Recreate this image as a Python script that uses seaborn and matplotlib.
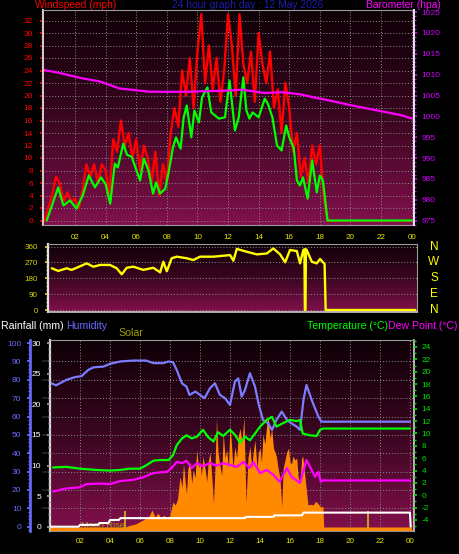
import numpy as np
import matplotlib
matplotlib.use('Agg')
import matplotlib.pyplot as plt
from matplotlib.colors import LinearSegmentedColormap
from matplotlib.ticker import MultipleLocator
import seaborn as sns

# ---- values (hours after midnight) ----
wind_hours = [0.15, 0.9, 1.24, 1.67, 2.1, 2.5, 2.9, 3.3, 3.7, 4.0,
              4.3, 4.6, 4.8, 5.15, 5.4, 5.7, 6.25, 6.5, 6.8, 7.1,
              7.3, 7.55, 7.9, 8.1, 8.4, 8.6, 8.9, 9.1, 9.3, 9.6,
              9.8, 10.1, 10.3, 10.65, 10.9, 11.4, 11.8, 12.1, 12.45, 12.7,
              13.0, 13.2, 13.4, 13.6, 14.0, 14.4, 14.6, 14.9, 15.2, 15.5,
              15.8, 16.0, 16.3, 16.5, 16.7, 16.9, 17.2, 17.5, 17.8, 18.0,
              18.2, 18.5, 24.0]
wind_avg = [0.0, 5.3, 2.4, 3.2, 1.9, 4.0, 7.2, 5.3, 6.9, 5.8,
            2.7, 9.1, 8.5, 12.3, 10.5, 10.2, 6.4, 9.9, 8.0, 4.3,
            6.1, 4.3, 5.1, 7.5, 11.7, 13.3, 11.5, 16.5, 18.4, 13.3,
            17.6, 15.7, 19.7, 21.3, 17.3, 16.3, 16.5, 22.4, 14.4, 16.5,
            22.9, 17.6, 16.3, 17.3, 16.5, 19.5, 18.7, 16.5, 12.0, 11.2,
            15.2, 13.3, 11.5, 6.4, 5.6, 6.9, 3.5, 9.6, 4.5, 7.2,
            6.4, 0.0, 0.0]

# gusts logged every quarter hour until the station went quiet
gust_every = 0.25
wind_gust = [0, 2, 4, 7, 6, 3, 4.5, 3, 3.5, 2, 5, 9, 7, 9, 6, 9, 8, 4, 13, 11,
             16, 12, 14, 10, 13, 8, 12, 10, 6, 11, 4, 9, 6, 14, 18, 15, 24, 20, 26, 18,
             27, 33, 22, 28, 21, 26, 19, 24, 33, 28, 20, 33, 25, 22, 27, 19, 30, 25, 22, 27,
             18, 21, 14, 22, 18, 11, 14, 7, 10, 6, 12, 9, 12, 4, 0]

pres_hours = [0, 1.0, 2.5, 3.6, 4.9, 6.9, 9.1, 12.1, 12.9, 14.4, 15.5, 16.7,
              17.8, 18.9, 20.0, 21.1, 22.2, 23.3, 24.0]
pressure = [1011.1, 1010.4, 1009.1, 1008.4, 1006.7, 1005.9, 1005.9, 1006.2, 1006.4, 1005.6,
            1005.8, 1005.3, 1004.4, 1003.6, 1002.7, 1001.9, 1001.1, 1000.3, 999.5]

dir_hours = [0.05, 0.48, 1.03, 1.36, 1.69, 2.35, 2.79, 3.23, 3.89, 4.33,
             4.66, 4.99, 5.43, 6.08, 6.74, 7.19, 7.40, 7.63, 7.95, 8.29,
             8.94, 9.38, 9.82, 10.70, 11.80, 12.02, 12.24, 12.90, 13.56, 14.22,
             14.65, 15.10, 15.43, 15.75, 16.20, 16.41, 16.63, 16.70, 16.73, 16.77,
             16.80, 16.85, 17.19, 17.51, 17.73, 18.03, 18.10, 24.0]
wind_dir = [237, 222, 237, 228, 240, 265, 246, 256, 256, 237,
            203, 240, 246, 228, 240, 214, 274, 220, 294, 303,
            294, 284, 303, 303, 312, 280, 347, 331, 316, 321,
            350, 316, 271, 341, 335, 265, 341, 345, 0, 0,
            345, 341, 274, 265, 290, 261, 0, 0]

hum_hours = [0.1, 0.4, 1.1, 1.67, 2.1, 2.55, 2.9, 3.55, 4.0, 4.67,
             5.55, 6.4, 6.9, 7.55, 7.9, 8.2, 8.45, 8.8, 9.1, 9.3,
             9.7, 10.0, 10.3, 10.67, 11.0, 11.33, 11.67, 12.0, 12.33, 12.55,
             12.78, 13.0, 13.33, 13.67, 13.9, 14.2, 14.55, 14.8, 15.1, 15.45,
             15.8, 16.1, 16.45, 16.67, 16.9, 17.1, 17.45, 17.67, 17.9, 18.1, 24.0]
humidity = [78.1, 77.0, 80.0, 81.5, 82.0, 85.4, 86.8, 87.2, 88.7, 90.0,
            90.5, 90.5, 89.1, 89.1, 90.0, 89.6, 85.4, 78.1, 76.3, 71.8,
            73.6, 71.8, 70.0, 75.5, 78.1, 71.8, 70.0, 66.3, 79.0, 80.8,
            70.8, 74.5, 83.6, 76.3, 67.2, 58.1, 56.3, 52.7, 58.1, 62.7,
            58.1, 56.3, 54.5, 52.7, 69.0, 77.2, 69.0, 64.5, 59.9, 57.2, 57.2]

temp_hours = [0.2, 1.1, 2.0, 2.55, 3.1, 4.0, 4.67, 5.33, 6.0, 6.45,
              6.9, 7.33, 7.9, 8.2, 8.45, 8.8, 9.1, 9.45, 9.8, 10.2,
              10.55, 10.9, 11.2, 11.55, 12.0, 12.33, 12.67, 13.0, 13.33, 13.67,
              14.0, 14.45, 14.8, 15.1, 15.55, 16.0, 16.45, 16.67, 16.85, 17.33,
              17.78, 18.0, 18.2, 24.0]
temperature = [4.5, 4.6, 4.3, 4.2, 4.1, 4.0, 4.1, 4.3, 4.3, 4.9,
               5.6, 5.7, 5.7, 6.5, 8.1, 9.2, 9.7, 9.2, 9.5, 10.6,
               9.4, 8.7, 10.2, 9.6, 10.6, 9.8, 8.5, 9.5, 8.9, 10.0,
               11.1, 12.2, 12.7, 11.1, 11.7, 12.2, 12.0, 12.2, 10.0, 9.7,
               9.6, 10.6, 10.8, 10.8]

dew_hours = [0.2, 1.1, 2.0, 2.4, 3.3, 4.0, 4.67, 5.55, 6.2, 6.9,
             7.33, 7.8, 8.1, 8.45, 8.8, 9.1, 9.45, 9.8, 10.2, 10.67,
             11.1, 11.55, 12.0, 12.45, 12.9, 13.3, 13.55, 14.0, 14.45, 14.9,
             15.3, 15.8, 16.1, 16.67, 17.1, 17.45, 17.67, 17.9, 18.05, 18.2, 24.0]
dew_point = [0.6, 1.1, 1.3, 1.8, 1.9, 1.8, 2.3, 2.5, 2.9, 3.6,
             3.7, 3.8, 4.4, 5.4, 5.2, 5.6, 4.4, 5.2, 4.7, 5.2,
             4.8, 5.2, 4.9, 4.6, 5.4, 4.4, 5.4, 3.6, 4.1, 3.3,
             2.2, 4.4, 3.0, 2.0, 5.7, 4.1, 3.0, 3.8, 2.2, 2.4, 2.4]

solar_hours = [0.0, 5.0, 5.3, 5.7, 6.0, 6.3, 6.6, 6.8, 7.0, 7.2, 7.4, 7.6, 7.8, 8.0,
               8.2, 8.35, 8.5, 8.67, 8.8, 8.9, 9.0, 9.1, 9.2, 9.33, 9.45, 9.55, 9.68,
               9.78, 9.9, 10.0, 10.1, 10.2, 10.33, 10.45, 10.55, 10.67, 10.8, 10.9, 11.0,
               11.1, 11.2, 11.33, 11.45, 11.55, 11.67, 11.78, 11.9, 12.0, 12.1, 12.2,
               12.33, 12.45, 12.55, 12.67, 12.8, 12.93, 13.07, 13.2, 13.33, 13.45, 13.55,
               13.67, 13.8, 13.9, 14.0, 14.1, 14.2, 14.33, 14.45, 14.55, 14.67, 14.78,
               14.9, 15.0, 15.1, 15.2, 15.33, 15.45, 15.55, 15.67, 15.78, 15.9, 16.0,
               16.1, 16.2, 16.33, 16.45, 16.55, 16.67, 16.78, 16.85, 17.0, 17.2, 17.4,
               17.55, 17.7, 17.8, 17.95, 18.05, 18.2, 18.25, 24.1]
solar = [0, 0, 8, 15, 27, 40, 55, 86, 50, 70, 45, 60, 40, 61,
         128, 110, 140, 255, 200, 323, 240, 170, 300, 330, 220, 290, 250,
         391, 300, 330, 260, 360, 300, 230, 330, 380, 240, 120, 300,
         550, 380, 310, 260, 480, 350, 391, 300, 520, 420, 300,
         408, 350, 460, 500, 430, 560, 120, 350, 410, 300, 380,
         440, 300, 380, 400, 330, 470, 420, 520, 560, 450, 500,
         400, 380, 357, 300, 250, 103, 300, 340, 380, 400, 330,
         320, 360, 340, 350, 250, 230, 350, 360, 255, 112, 115,
         112, 130, 125, 110, 103, 103, 0, 0]

rain_hours = [0, 1.9, 2.0, 3.2, 3.3, 3.9, 4.0, 4.6, 4.7, 13.0, 13.05,
              14.9, 14.95, 16.8, 16.9, 24.0, 24.05]
rain_total = [0, 0, 0.3, 0.3, 0.6, 0.6, 1.1, 1.1, 1.4, 1.4, 1.6,
              1.6, 1.85, 1.85, 2.3, 2.3, 0]

moonrise_hour = 5.0
moonset_hour = 21.2

hour_ticks = [2, 4, 6, 8, 10, 12, 14, 16, 18, 20, 22, 24]
hour_labels = ['02', '04', '06', '08', '10', '12', '14', '16', '18', '20', '22', '00']
compass_deg = [360, 270, 180, 90, 0]
compass_labels = ['N', 'W', 'S', 'E', 'N']

W, H = 460, 554
BG = LinearSegmentedColormap.from_list('bg', ['#0e0006', '#3a0620', '#82104c'])
GRID = dict(color='#8c8c8c', linestyle=(0, (1, 2)), linewidth=0.7)
HOUR_COLOR = '#e6e600'


def px_axes(fig, left, top, right, bottom):
    return fig.add_axes([left / W, 1 - bottom / H, (right - left) / W, (bottom - top) / H])


def paint(ax):
    ax.set_facecolor('black')
    ax.imshow(np.linspace(0, 1, 256)[:, None], cmap=BG, aspect='auto', extent=[0, 1, 0, 1],
              transform=ax.transAxes, zorder=-5, interpolation='bilinear')
    for s in ax.spines.values():
        s.set_color('#9a9a9a')
        s.set_linewidth(0.8)


def hide_twin(ax):
    ax.patch.set_visible(False)
    for s in ax.spines.values():
        s.set_visible(False)
    ax.xaxis.set_visible(False)


def hour_axis(ax, pad):
    ax.set_xticks(hour_ticks)
    ax.set_xticklabels(hour_labels)
    ax.xaxis.set_minor_locator(MultipleLocator(1))
    ax.tick_params(axis='x', which='both', colors='#9a9a9a', labelcolor=HOUR_COLOR,
                   labelsize=5.8, length=2.2, width=0.8, pad=pad)
    ax.tick_params(axis='x', which='minor', length=1.5)


sns.set_theme(style='dark')
plt.rcParams['font.family'] = ['Liberation Sans', 'DejaVu Sans']
plt.rcParams['axes.unicode_minus'] = False

fig = plt.figure(figsize=(W / 100, H / 100), dpi=100, facecolor='black')

# ---------------- wind speed + barometer ----------------
ax_w = px_axes(fig, 43.5, 10, 413.5, 225)
paint(ax_w)
sns.lineplot(x=np.arange(len(wind_gust)) * gust_every, y=wind_gust, ax=ax_w,
             color='#ff0000', linewidth=1.7, errorbar=None)
sns.lineplot(x=[18.5, 24.0], y=[0, 0], ax=ax_w, color='#ff0000', linewidth=1.3, errorbar=None)
sns.lineplot(x=wind_hours, y=wind_avg, ax=ax_w, color='#00ff00', linewidth=1.6, errorbar=None)
ax_w.set_xlim(-0.06, 24.12)
ax_w.set_ylim(-0.72, 33.68)
ax_w.set_yticks(range(0, 33, 2))
ax_w.yaxis.set_minor_locator(MultipleLocator(0.5))
ax_w.grid(True, which='major', **GRID)
ax_w.tick_params(axis='y', which='both', left=True, colors='#ff0000', labelsize=6, length=2.5, pad=5)
ax_w.tick_params(axis='y', which='minor', length=1.3)
hour_axis(ax_w, pad=4)
ax_w.spines['left'].set_color('#d0d0d0')
ax_w.spines['left'].set_linewidth(1.4)
ax_w.set_xlabel('')
ax_w.set_ylabel('')

ax_p = ax_w.twinx()
hide_twin(ax_p)
ax_p.spines['right'].set_visible(True)
ax_p.spines['right'].set_color('#e8e8e8')
ax_p.spines['right'].set_linewidth(1.4)
sns.lineplot(x=pres_hours, y=pressure, ax=ax_p, color='#ff00ff', linewidth=1.6, errorbar=None)
ax_p.set_ylim(973.97, 1025.5)
ax_p.set_yticks(range(975, 1026, 5))
ax_p.yaxis.set_minor_locator(MultipleLocator(1))
ax_p.tick_params(axis='y', which='both', right=True, colors='#d000ff', labelsize=6, length=2.5, pad=3)
ax_p.tick_params(axis='y', which='minor', length=1.3)
ax_p.set_ylabel('')

fig.text(35 / W, 1 - 5 / H, 'Windspeed (mph)', color='#ff0000', fontsize=7.4, ha='left', va='center')
fig.text(248 / W, 1 - 5 / H, '24 hour graph day : 12 May 2026', color='#1c1cae', fontsize=7.4,
         ha='center', va='center')
fig.text(441 / W, 1 - 5 / H, 'Barometer (hpa)', color='#ff00ff', fontsize=7.4, ha='right', va='center')

# ---------------- wind direction ----------------
ax_d = px_axes(fig, 48.3, 244, 416.7, 312.3)
paint(ax_d)
sns.lineplot(x=dir_hours, y=wind_dir, ax=ax_d, color='#ffff00', linewidth=1.7, errorbar=None)
ax_d.set_xlim(-0.18, 24.1)
ax_d.set_ylim(-13, 375)
ax_d.set_yticks([0, 90, 180, 270, 360])
ax_d.yaxis.set_minor_locator(MultipleLocator(22.5))
ax_d.set_xticks([])
ax_d.grid(True, axis='y', which='major', **GRID)
ax_d.tick_params(axis='y', which='both', left=True, colors='#d8d800', labelsize=5.8, length=2.5, pad=5)
ax_d.tick_params(axis='y', which='minor', length=1.3)
ax_d.spines['left'].set_color('#e0e0e0')
ax_d.spines['left'].set_linewidth(1.6)
ax_d.spines['bottom'].set_color('#c8c8c8')
ax_d.spines['bottom'].set_linewidth(1.2)
for deg, lab in zip(compass_deg, compass_labels):
    ax_d.text(1.047, deg, lab, transform=ax_d.get_yaxis_transform(), color='#ffff00',
              fontsize=8.5, ha='center', va='center')
ax_d.set_xlabel('')
ax_d.set_ylabel('')

# ---------------- rain / humidity / solar / temperature ----------------
ax_b = px_axes(fig, 50, 340, 414, 530.5)
paint(ax_b)
ax_b.set_xlim(0, 24.27)
ax_b.set_ylim(-2.07, 101.7)
ax_b.set_yticks(range(10, 100, 10))
ax_b.tick_params(axis='y', left=False, labelleft=False)
ax_b.grid(True, which='major', **GRID)
hour_axis(ax_b, pad=3)
ax_b.spines['left'].set_color('#d8d8d8')
ax_b.spines['left'].set_linewidth(1.6)
ax_b.spines['bottom'].set_color('#b0b0b0')
ax_b.spines['bottom'].set_linewidth(1.2)
ax_b.spines['right'].set_color('#d0d0d0')
ax_b.spines['right'].set_linewidth(1.2)

ax_s = ax_b.twinx()
hide_twin(ax_s)
ax_s.set_ylim(-17.8, 949)
ax_s.set_yticks([])
floor = ax_s.get_ylim()[0]
ax_s.fill_between(solar_hours, solar, floor, color='#ff8a00', linewidth=0)
ax_s.vlines([moonrise_hour, moonset_hour], floor, 80, color='#c8a028', linewidth=1.4)
ax_s.text(moonrise_hour, 10, 'Moon Rise', color='#a8980c', fontsize=6.6, ha='right', va='center')

ax_r = ax_b.twinx()
hide_twin(ax_r)
sns.lineplot(x=rain_hours, y=rain_total, ax=ax_r, color='#ffffff', linewidth=1.5, errorbar=None, sort=False)
ax_r.set_ylim(-2.07 * 0.3, 101.7 * 0.3)
ax_r.yaxis.tick_left()
ax_r.set_yticks(range(0, 31, 5))
ax_r.yaxis.set_minor_locator(MultipleLocator(1))
ax_r.tick_params(axis='y', which='both', colors='#a0a0a0', labelcolor='#ffffff', labelsize=6,
                 length=2.5, pad=4)
ax_r.tick_params(axis='y', which='minor', length=1.5)
ax_r.set_ylabel('')

ax_h = ax_b.twinx()
hide_twin(ax_h)
sns.lineplot(x=hum_hours, y=humidity, ax=ax_h, color='#7c7cff', linewidth=1.6, errorbar=None)
ax_h.set_ylim(-2.07, 101.7)
ax_h.yaxis.tick_left()
ax_h.spines['left'].set_visible(True)
ax_h.spines['left'].set_position(('outward', 14.4))
ax_h.spines['left'].set_color('#6a6aff')
ax_h.spines['left'].set_linewidth(1.9)
ax_h.set_yticks(range(0, 101, 10))
ax_h.yaxis.set_minor_locator(MultipleLocator(2))
ax_h.tick_params(axis='y', which='both', colors='#6a6aff', labelsize=6, length=2.2, pad=4)
ax_h.tick_params(axis='y', which='minor', length=1.2)
ax_h.set_ylabel('')

ax_t = ax_b.twinx()
hide_twin(ax_t)
sns.lineplot(x=temp_hours, y=temperature, ax=ax_t, color='#00ff00', linewidth=1.6, errorbar=None)
sns.lineplot(x=dew_hours, y=dew_point, ax=ax_t, color='#ff00ff', linewidth=1.6, errorbar=None)
ax_t.set_ylim(-5.7, 25.13)
ax_t.set_yticks(range(-4, 25, 2))
ax_t.yaxis.set_minor_locator(MultipleLocator(1))
ax_t.tick_params(axis='y', which='both', right=True, colors='#00e000', labelsize=6, length=2.5, pad=3)
ax_t.tick_params(axis='y', which='minor', length=1.3)
ax_t.set_ylabel('')

fig.text(1 / W, 1 - 326 / H, 'Rainfall (mm)', color='#ffffff', fontsize=7.6, ha='left', va='center')
fig.text(66 / W, 1 - 326 / H, 'Humidity', color='#6a6aff', fontsize=7.6, ha='left', va='center')
fig.text(118 / W, 1 - 333 / H, 'Solar', color='#a0a000', fontsize=7.6, ha='left', va='center')
fig.text(388 / W, 1 - 326 / H, 'Temperature (°C)', color='#00ff00', fontsize=7.6, ha='right', va='center')
fig.text(388 / W, 1 - 326 / H, 'Dew Point (°C)', color='#ff00ff', fontsize=7.6, ha='left', va='center')

fig.savefig('out.png', dpi=100, facecolor='black')
